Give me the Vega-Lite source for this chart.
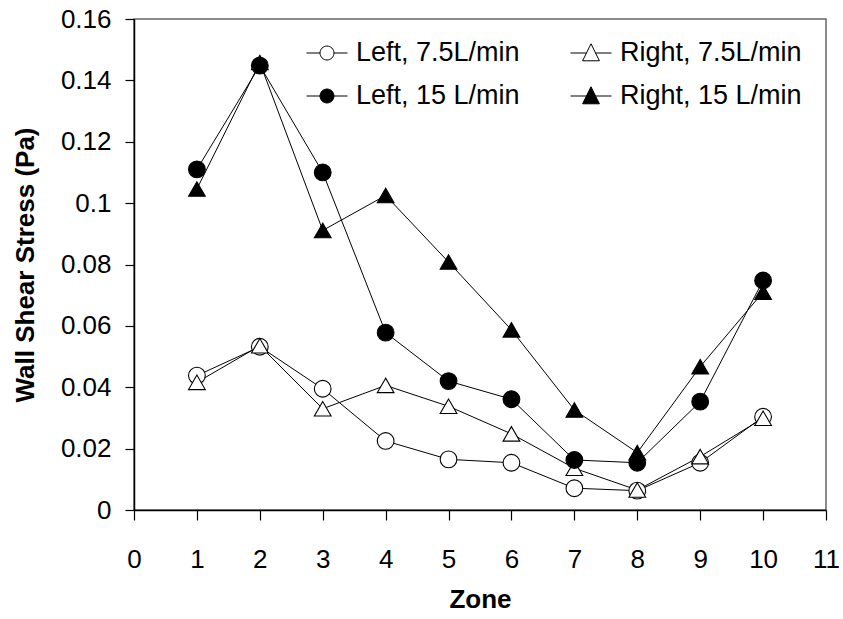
{
  "$schema": "https://vega.github.io/schema/vega-lite/v6.json",
  "width": 692,
  "height": 491,
  "autosize": "none",
  "padding": {"left": 134, "top": 19, "right": 17, "bottom": 109},
  "background": "white",
  "config": {
    "font": "Liberation Sans",
    "view": {"stroke": "#666666", "strokeWidth": 1.5},
    "axis": {
      "grid": false,
      "domainColor": "black",
      "domainWidth": 1.5,
      "tickColor": "black",
      "tickWidth": 1.2,
      "labelColor": "black",
      "labelFont": "Liberation Sans",
      "labelFontSize": 26,
      "titleFont": "Liberation Sans",
      "titleFontSize": 26,
      "titleFontWeight": "bold",
      "titleColor": "black"
    },
    "legend": {
      "orient": "none",
      "legendX": 172,
      "legendY": 13,
      "columns": 2,
      "direction": "horizontal",
      "padding": 0,
      "symbolSize": 1681,
      "symbolStrokeColor": "black",
      "symbolStrokeWidth": 1,
      "symbolOpacity": 1,
      "labelFont": "Liberation Sans",
      "labelFontSize": 27,
      "labelColor": "black",
      "labelOffset": 8,
      "labelLimit": 400,
      "columnPadding": 48,
      "rowPadding": 9
    }
  },
  "data": {
    "values": [
      {"series": "Left, 7.5L/min", "zone": 1, "wss": 0.0438},
      {"series": "Left, 7.5L/min", "zone": 2, "wss": 0.0532},
      {"series": "Left, 7.5L/min", "zone": 3, "wss": 0.0395},
      {"series": "Left, 7.5L/min", "zone": 4, "wss": 0.0225},
      {"series": "Left, 7.5L/min", "zone": 5, "wss": 0.0165},
      {"series": "Left, 7.5L/min", "zone": 6, "wss": 0.0154},
      {"series": "Left, 7.5L/min", "zone": 7, "wss": 0.0071},
      {"series": "Left, 7.5L/min", "zone": 8, "wss": 0.0063},
      {"series": "Left, 7.5L/min", "zone": 9, "wss": 0.0154},
      {"series": "Left, 7.5L/min", "zone": 10, "wss": 0.0304},
      {"series": "Right, 7.5L/min", "zone": 1, "wss": 0.0416},
      {"series": "Right, 7.5L/min", "zone": 2, "wss": 0.0535},
      {"series": "Right, 7.5L/min", "zone": 3, "wss": 0.033},
      {"series": "Right, 7.5L/min", "zone": 4, "wss": 0.0406},
      {"series": "Right, 7.5L/min", "zone": 5, "wss": 0.0338},
      {"series": "Right, 7.5L/min", "zone": 6, "wss": 0.0248},
      {"series": "Right, 7.5L/min", "zone": 7, "wss": 0.0136},
      {"series": "Right, 7.5L/min", "zone": 8, "wss": 0.0065},
      {"series": "Right, 7.5L/min", "zone": 9, "wss": 0.0174},
      {"series": "Right, 7.5L/min", "zone": 10, "wss": 0.0299},
      {"series": "Left, 15 L/min", "zone": 1, "wss": 0.111},
      {"series": "Left, 15 L/min", "zone": 2, "wss": 0.1448},
      {"series": "Left, 15 L/min", "zone": 3, "wss": 0.11},
      {"series": "Left, 15 L/min", "zone": 4, "wss": 0.0578},
      {"series": "Left, 15 L/min", "zone": 5, "wss": 0.042},
      {"series": "Left, 15 L/min", "zone": 6, "wss": 0.0361},
      {"series": "Left, 15 L/min", "zone": 7, "wss": 0.0163},
      {"series": "Left, 15 L/min", "zone": 8, "wss": 0.0154},
      {"series": "Left, 15 L/min", "zone": 9, "wss": 0.0353},
      {"series": "Left, 15 L/min", "zone": 10, "wss": 0.0748},
      {"series": "Right, 15 L/min", "zone": 1, "wss": 0.1046},
      {"series": "Right, 15 L/min", "zone": 2, "wss": 0.1458},
      {"series": "Right, 15 L/min", "zone": 3, "wss": 0.0911},
      {"series": "Right, 15 L/min", "zone": 4, "wss": 0.1025},
      {"series": "Right, 15 L/min", "zone": 5, "wss": 0.0808},
      {"series": "Right, 15 L/min", "zone": 6, "wss": 0.0587},
      {"series": "Right, 15 L/min", "zone": 7, "wss": 0.0326},
      {"series": "Right, 15 L/min", "zone": 8, "wss": 0.0187},
      {"series": "Right, 15 L/min", "zone": 9, "wss": 0.0467},
      {"series": "Right, 15 L/min", "zone": 10, "wss": 0.071}
    ]
  },
  "encoding": {
    "x": {
      "field": "zone",
      "type": "quantitative",
      "title": "Zone",
      "scale": {"domain": [0, 11], "nice": false, "zero": false},
      "axis": {
        "values": [0, 1, 2, 3, 4, 5, 6, 7, 8, 9, 10, 11],
        "format": "d",
        "tickSize": 10,
        "labelPadding": 26,
        "titlePadding": 14,
        "labelFlush": false,
        "labelOverlap": false
      }
    },
    "y": {
      "field": "wss",
      "type": "quantitative",
      "title": "Wall Shear Stress (Pa)",
      "scale": {"domain": [0, 0.16], "nice": false},
      "axis": {
        "values": [0, 0.02, 0.04, 0.06, 0.08, 0.1, 0.12, 0.14, 0.16],
        "format": "~g",
        "tickSize": 9,
        "labelPadding": 14,
        "titlePadding": 22,
        "labelFlush": false,
        "labelOverlap": false
      }
    }
  },
  "resolve": {"scale": {"shape": "independent", "fill": "independent"}, "legend": {"shape": "independent", "fill": "independent"}},
  "layer": [
    {
      "mark": {"type": "point", "stroke": "black", "filled": false, "opacity": 0, "size": 10},
      "encoding": {
        "shape": {
          "field": "series",
          "type": "nominal",
          "title": null,
          "sort": null,
          "scale": {
            "domain": ["Left, 7.5L/min", "Right, 7.5L/min", "Left, 15 L/min", "Right, 15 L/min"],
            "range": [
              "M-1,0H-0.34M0.34,0H1M0.34,0A0.34,0.34,0,1,1,-0.34,0A0.34,0.34,0,1,1,0.34,0Z",
              "M-1,0H-0.22M0.22,0H1M0,-0.45L0.41,0.38L-0.41,0.38Z",
              "M-1,0H-0.34M0.34,0H1M0.34,0A0.34,0.34,0,1,1,-0.34,0A0.34,0.34,0,1,1,0.34,0Z",
              "M-1,0H-0.22M0.22,0H1M0,-0.45L0.41,0.38L-0.41,0.38Z"
            ]
          },
          "legend": {
            "encode": {
              "symbols": {
                "update": {
                  "stroke": {"value": "black"},
                  "strokeWidth": {"value": 1},
                  "strokeOpacity": {"value": 1},
                  "opacity": {"value": 1}
                }
              }
            }
          }
        },
        "fill": {
          "field": "series",
          "type": "nominal",
          "title": null,
          "sort": null,
          "scale": {
            "domain": ["Left, 7.5L/min", "Right, 7.5L/min", "Left, 15 L/min", "Right, 15 L/min"],
            "range": ["white", "white", "black", "black"]
          },
          "legend": {
            "encode": {
              "symbols": {
                "update": {
                  "stroke": {"value": "black"},
                  "strokeWidth": {"value": 1},
                  "strokeOpacity": {"value": 1},
                  "opacity": {"value": 1}
                }
              }
            }
          }
        }
      }
    },
    {
      "mark": {"type": "line", "color": "black", "strokeWidth": 1},
      "encoding": {"detail": {"field": "series", "type": "nominal"}}
    },
    {
      "mark": {"type": "point", "stroke": "black", "strokeWidth": 1.1, "opacity": 1, "filled": false, "size": 280},
      "encoding": {
        "shape": {
          "field": "series",
          "type": "nominal",
          "legend": null,
          "sort": null,
          "scale": {
            "domain": ["Left, 7.5L/min", "Right, 7.5L/min", "Left, 15 L/min", "Right, 15 L/min"],
            "range": ["circle", "triangle-up", "circle", "triangle-up"]
          }
        },
        "fill": {
          "field": "series",
          "type": "nominal",
          "legend": null,
          "sort": null,
          "scale": {
            "domain": ["Left, 7.5L/min", "Right, 7.5L/min", "Left, 15 L/min", "Right, 15 L/min"],
            "range": ["white", "white", "black", "black"]
          }
        }
      }
    }
  ]
}
